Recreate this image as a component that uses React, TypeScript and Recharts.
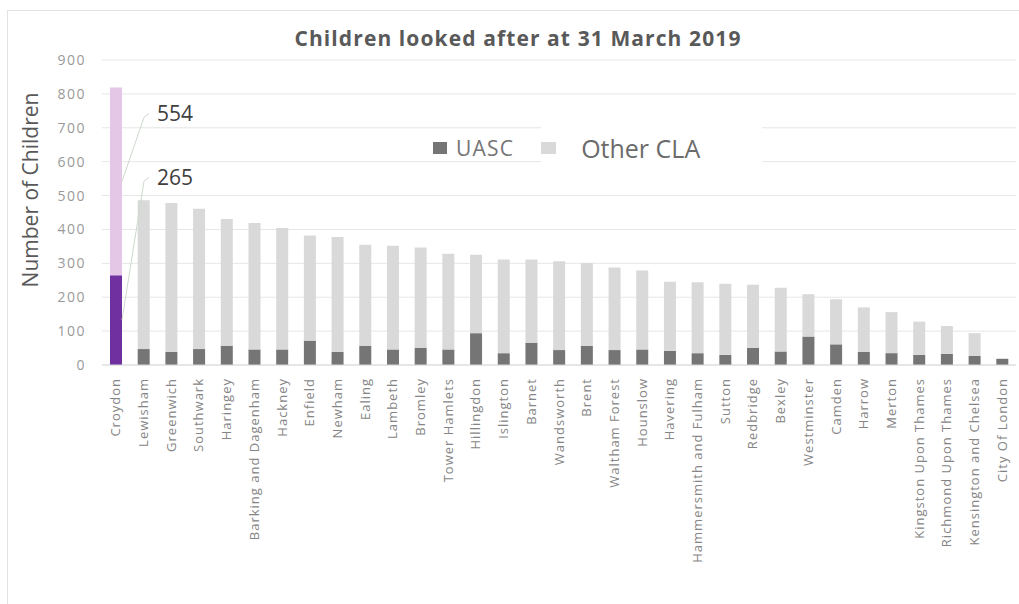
import { BarChart, Bar, XAxis, YAxis, CartesianGrid, Cell, LabelList } from 'recharts'

const boroughs = [
  'Croydon', 'Lewisham', 'Greenwich', 'Southwark', 'Haringey', 'Barking and Dagenham', 'Hackney',
  'Enfield', 'Newham', 'Ealing', 'Lambeth', 'Bromley', 'Tower Hamlets', 'Hillingdon', 'Islington',
  'Barnet', 'Wandsworth', 'Brent', 'Waltham Forest', 'Hounslow', 'Havering', 'Hammersmith and Fulham',
  'Sutton', 'Redbridge', 'Bexley', 'Westminster', 'Camden', 'Harrow', 'Merton', 'Kingston Upon Thames',
  'Richmond Upon Thames', 'Kensington and Chelsea', 'City Of London',
]

const uasc = [
  265, 47, 39, 47, 57, 46, 46, 72, 39, 57, 46, 51, 46, 94, 35, 66, 44,
  56, 44, 46, 42, 35, 30, 51, 40, 84, 61, 39, 35, 30, 33, 27, 18,
]

const otherCla = [
  554, 439, 439, 414, 374, 373, 358, 310, 339, 298, 306, 296, 282, 231, 276, 245, 262,
  245, 244, 233, 204, 209, 210, 186, 188, 125, 133, 131, 121, 98, 82, 67, 2,
]

const yTicks = [0, 100, 200, 300, 400, 500, 600, 700, 800, 900]

const data = boroughs.map((name, i) => ({ name, uasc: uasc[i], other: otherCla[i] }))

const font = '"Open Sans", "Liberation Sans", sans-serif'

const XTick = ({ x, y, payload }: any) => (
  <text
    x={x}
    y={y}
    dy="0.35em"
    transform={`rotate(-90, ${x}, ${y})`}
    textAnchor="end"
    fontSize={13}
    letterSpacing={1}
    fontFamily={font}
    fill="#858585"
  >
    {payload.value}
  </text>
)

// leader line + callout, only on the first (Croydon) bar
const callout = (dy: number) => (props: any) => {
  const { x, y, width, height, value, index } = props
  if (index !== 0) return null
  const x0 = x + width
  const y0 = y + height / 2
  const tx = x + width + 35
  const ty = y + dy
  return (
    <g>
      <polyline points={`${x0},${y0} ${tx - 13},${ty + 4} ${tx - 8},${ty}`} fill="none" stroke="#cdd9cd" strokeWidth={1} />
      <text x={tx} y={ty} dy="0.35em" fontSize={21} fontFamily={font} fill="#404040">{value}</text>
    </g>
  )
}

export default function App() {
  return (
    <div style={{ position: 'absolute', left: 0, top: 0, width: 1019, height: 604, overflow: 'hidden', background: '#fff' }}>
      <div style={{ position: 'absolute', left: 7, top: 10, width: 1040, height: 640, border: '1px solid #e3e3e3', boxSizing: 'border-box' }} />
      <div style={{ position: 'absolute', left: 0, top: 0 }}>
        <BarChart width={1019} height={604} data={data} margin={{ top: 60, right: 3, left: 0, bottom: 0 }} barSize={12}>
          <CartesianGrid vertical={false} stroke="#e6e6e6" />
          <XAxis
            dataKey="name"
            interval={0}
            tick={<XTick />}
            tickLine={false}
            axisLine={{ stroke: '#d9d9d9' }}
            height={239}
            tickMargin={7}
          />
          <YAxis
            domain={[0, 900]}
            ticks={yTicks}
            width={102}
            tickLine={false}
            axisLine={false}
            tickMargin={10}
            tick={{ fontSize: 14, fill: '#9a9a9a', fontFamily: font, letterSpacing: 1.5 }}
            label={{
              content: () => (
                <text x={38} y={190} transform="rotate(-90, 38, 190)" textAnchor="middle" fontSize={21} fontFamily={font} fill="#595959">
                  Number of Children
                </text>
              ),
            }}
          />
          <Bar dataKey="uasc" name="UASC" stackId="a" fill="#757575" isAnimationActive={false}>
            {data.map((d, i) => <Cell key={d.name} fill={i === 0 ? '#7030a0' : '#757575'} />)}
            <LabelList dataKey="uasc" content={callout(-98)} />
          </Bar>
          <Bar dataKey="other" name="Other CLA" stackId="a" fill="#d9d9d9" isAnimationActive={false}>
            {data.map((d, i) => <Cell key={d.name} fill={i === 0 ? '#e4c6e6' : '#d9d9d9'} />)}
            <LabelList dataKey="other" content={callout(26)} />
          </Bar>
        </BarChart>
      </div>
      <div style={{
        position: 'absolute', left: 0, top: 24, width: 1036, textAlign: 'center', fontFamily: font,
        fontWeight: 700, fontSize: 21, letterSpacing: 1.1, color: '#595959',
      }}>
        Children looked after at 31 March 2019
      </div>
      <div style={{ position: 'absolute', left: 433, top: 125, display: 'flex', alignItems: 'center', fontFamily: font }}>
        <span style={{ width: 14, height: 12, background: '#757575', display: 'inline-block', marginRight: 9 }} />
        <span style={{ fontSize: 21, letterSpacing: 1.2, color: '#757575', marginRight: 27 }}>UASC</span>
        <span style={{ display: 'flex', alignItems: 'center', background: '#fff', padding: '6px 62px 6px 0' }}>
          <span style={{ width: 15, height: 12, background: '#d9d9d9', display: 'inline-block', marginRight: 25 }} />
          <span style={{ fontSize: 25, color: '#6b6b6b' }}>Other CLA</span>
        </span>
      </div>
    </div>
  )
}
